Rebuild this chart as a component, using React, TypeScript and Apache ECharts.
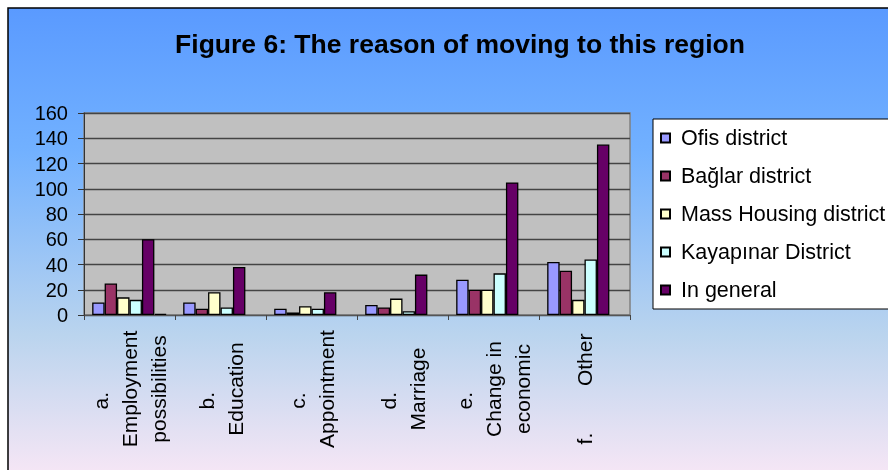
import React, { useEffect, useRef } from "react";
import * as echarts from "echarts";

const titleText = "Figure 6: The reason of moving to this region";

const categories = [
  "a.    \nEmployment\npossibilities",
  "b.    \nEducation",
  "c.    \nAppointment",
  "d.    \nMarriage",
  "e.    \nChange in\neconomic",
  "f.        Other",
];

const seriesNames = [
  "Ofis district",
  "Bağlar district",
  "Mass Housing district",
  "Kayapınar District",
  "In general",
];

const ofis = [10, 10, 5, 8, 28, 42];
const baglar = [25, 5, 2, 6, 20, 35];
const massHousing = [14, 18, 7, 13, 20, 12];
const kayapinar = [12, 6, 5, 3, 33, 44];
const inGeneral = [60, 38, 18, 32, 105, 135];
const extraSeries = [1, null, null, null, null, null];

const yTicks = { min: 0, max: 160, interval: 20 };

const colors = ["#9999FF", "#993366", "#FFFFCC", "#CCFFFF", "#660066", "#FF8080"];

const FONT = "Liberation Sans, Arial, sans-serif";

export default function App() {
  const ref = useRef<HTMLDivElement>(null);

  useEffect(() => {
    if (!ref.current) return;
    const chart = echarts.init(ref.current, undefined, { renderer: "svg" });
    const allData = [ofis, baglar, massHousing, kayapinar, inGeneral, extraSeries];
    const names = [...seriesNames, "extra"];
    chart.setOption({
      animation: false,
      textStyle: { fontFamily: FONT },
      graphic: [
        {
          type: "rect",
          z: -10,
          silent: true,
          shape: { x: 8, y: 8, width: 900, height: 480 },
          style: {
            fill: new echarts.graphic.LinearGradient(0, 0, 0, 1, [
              { offset: 0, color: "#5A9AFF" },
              { offset: 0.3, color: "#72B1FF" },
              { offset: 0.68, color: "#BAD4EE" },
              { offset: 1, color: "#FCE8F6" },
            ]),
            stroke: "#000",
            lineWidth: 1.5,
          },
        },
      ],
      title: {
        text: titleText,
        left: 455,
        top: 25,
        textAlign: "center",
        textStyle: { fontSize: 26.5, fontWeight: "bold", color: "#000", fontFamily: FONT },
      },
      legend: {
        orient: "vertical",
        left: 653,
        top: 119,
        data: seriesNames,
        icon: "rect",
        itemWidth: 9,
        itemHeight: 9,
        itemGap: 16,
        padding: [8, 12, 8, 7],
        backgroundColor: "#fff",
        borderColor: "#000",
        borderWidth: 1,
        borderRadius: 0,
        selectedMode: false,
        textStyle: { fontSize: 21.5, color: "#000", fontFamily: FONT, padding: [0, 0, 0, 6] },
      },
      grid: {
        left: 84,
        right: 258,
        top: 113,
        bottom: 155,
        show: true,
        backgroundColor: "#C0C0C0",
        borderColor: "#808080",
        borderWidth: 1.5,
      },
      xAxis: {
        type: "category",
        data: categories,
        axisLine: { lineStyle: { color: "#555", width: 1 } },
        axisTick: { show: true, length: 5, lineStyle: { color: "#444" } },
        axisLabel: {
          rotate: 90,
          margin: 10,
          interval: 0,
          formatter: (v: string) =>
            v
              .split("\n")
              .map((s) => "{c|" + s + "}")
              .join("\n"),
          rich: {
            c: {
              width: 128,
              align: "center",
              fontSize: 21,
              lineHeight: 29,
              color: "#000",
              fontFamily: FONT,
            },
          },
        },
      },
      yAxis: {
        type: "value",
        min: yTicks.min,
        max: yTicks.max,
        interval: yTicks.interval,
        axisLine: { show: true, lineStyle: { color: "#333", width: 1 } },
        axisTick: { show: true, length: 6, lineStyle: { color: "#333" } },
        axisLabel: { fontSize: 20, color: "#000", margin: 16, fontFamily: FONT },
        splitLine: { show: true, lineStyle: { color: "#444", width: 1.4 } },
      },
      series: allData.map((d, i) => ({
        name: names[i],
        type: "bar",
        data: d,
        barGap: "0%",
        barCategoryGap: "18%",
        itemStyle: { color: colors[i], borderColor: "#000", borderWidth: 1.3 },
      })),
    });
    return () => chart.dispose();
  }, []);

  return (
    <div
      ref={ref}
      style={{ position: "fixed", left: 0, top: 0, width: 888, height: 470 }}
    />
  );
}
